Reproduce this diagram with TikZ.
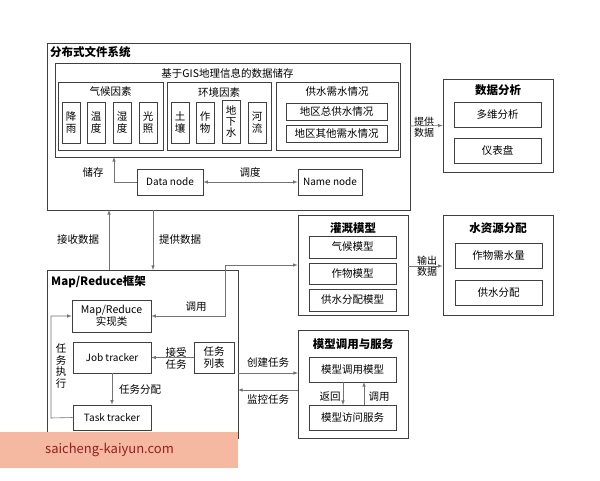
\documentclass[tikz,border=0pt]{standalone}
\usepackage{fontspec}
\setmainfont{Noto Sans CJK SC}
\begin{document}
\begin{tikzpicture}[x=1pt,y=-1pt,
  box/.style={draw=black!75,line width=0.7pt,inner sep=0pt,font=\fontsize{10.5}{12}\selectfont,align=center},
  cont/.style={draw=black!75,line width=0.8pt,inner sep=0pt},
  ttl/.style={font=\fontsize{11.5}{13}\selectfont\bfseries,inner sep=0pt},
  lbl/.style={font=\fontsize{10.5}{12}\selectfont,inner sep=0pt,align=center},
  arr/.style={-latex,draw=black!55,line width=0.6pt},
  darr/.style={latex-latex,draw=black!55,line width=0.6pt}]
\useasboundingbox (0,0) rectangle (600,480);
\fill[white] (0,0) rectangle (600,480);
% DFS
\node[cont,minimum width=363,minimum height=167] (dfs) at (228.5,126.5) {};
\node[ttl,anchor=west] (dfst) at (50,52) {分布式文件系统};
\node[cont,minimum width=345,minimum height=94] (gis) at (227.5,110) {};
\node[lbl] (gist) at (227.5,73) {基于GIS地理信息的数据储存};
\node[cont,minimum width=105,minimum height=68] (qh) at (110.5,116) {};
\node[lbl] (qht) at (110.5,92) {气候因素};
\foreach \n/\x/\t in {a/71/降\\雨,b/96/温\\度,c/122/湿\\度,d/148/光\\照}
  \node[box,minimum width=18,minimum height=41] (q\n) at (\x,122.5) {\t};
\node[cont,minimum width=104,minimum height=68] (hj) at (219,116) {};
\node[lbl] (hjt) at (219,92) {环境因素};
\foreach \n/\x/\t in {a/180/土\\壤,b/205/作\\物,d/257/河\\流}
  \node[box,minimum width=18,minimum height=41] (h\n) at (\x,122.5) {\t};
\node[box,minimum width=18,minimum height=43,font=\fontsize{10.5}{11}\selectfont] (hc) at (231,121.5) {地\\下\\水};
\node[cont,minimum width=122,minimum height=68] (gs) at (337,116) {};
\node[lbl] (gst) at (337,92) {供水需水情况};
\node[box,minimum width=101,minimum height=17] (gs1) at (336.5,111.5) {地区总供水情况};
\node[box,minimum width=101,minimum height=17] (gs2) at (336.5,133.5) {地区其他需水情况};
\node[box,minimum width=66,minimum height=26,font=\fontsize{10}{12}\selectfont] (dn) at (170,182) {Data node};
\node[box,minimum width=64,minimum height=26,font=\fontsize{10}{12}\selectfont] (nn) at (330,182) {Name node};
\node[lbl] (cc) at (93,172) {储存};
\node[lbl] (dd) at (250,172) {调度};
\coordinate (g1) at (114,157);
\draw[arr] (dn.west) -| (g1);
\draw[darr] (dn) -- (nn);
% MapReduce
\node[cont,minimum width=191,minimum height=168] (mr) at (142.5,354) {};
\node[ttl,anchor=west] (mrt) at (51,282) {Map/Reduce框架};
\draw[arr] (109,270) -- (109,210);
\draw[arr] (153,210) -- (153,270);
\node[lbl] (js) at (78,240) {接收数据};
\node[lbl] (tg) at (180,240) {提供数据};
\node[box,minimum width=79,minimum height=32] (mi) at (111.5,316) {Map/Reduce\\实现类};
\node[box,minimum width=78,minimum height=31,font=\fontsize{10}{12}\selectfont] (jt) at (112,357.5) {Job tracker};
\node[box,minimum width=40,minimum height=31] (rw) at (214,357.5) {任务\\列表};
\node[box,minimum width=78,minimum height=25,font=\fontsize{10}{12}\selectfont] (tt) at (112,417.5) {Task tracker};
\draw[arr] (rw) -- (jt);
\node[lbl] (jsr) at (176,358) {接受\\任务};
\draw[arr] (jt) -- (tt);
\node[lbl] (fp) at (140,390) {任务分配};
\coordinate (l1) at (51,418);
\draw[arr] (tt.west) -- (l1) |- (mi.west);
\node[lbl,font=\fontsize{10.5}{11.5}\selectfont] (zx) at (61,366) {任\\务\\执\\行};
% Irrigation
\node[cont,minimum width=110,minimum height=100] (gg) at (353,265) {};
\node[ttl] (ggt) at (353,228) {灌溉模型};
\node[box,minimum width=87,minimum height=22] (m1) at (352.5,247) {气候模型};
\node[box,minimum width=87,minimum height=21] (m2) at (352.5,273.5) {作物模型};
\node[box,minimum width=87,minimum height=22] (m3) at (352.5,300) {供水分配模型};
\coordinate (c1) at (225,265);
\draw[arr] (c1) -- (gg.west);
\draw[arr] (c1) |- (mi.east);
\node[lbl] (dy) at (196,307) {调用};
% Data analysis
\node[cont,minimum width=110,minimum height=93] (sj) at (498,125.5) {};
\node[ttl] (sjt) at (498,90) {数据分析};
\node[box,minimum width=87,minimum height=25] (s1) at (497.5,114.5) {多维分析};
\node[box,minimum width=87,minimum height=25] (s2) at (497.5,150.5) {仪表盘};
\draw[arr] (410,126) -- (sj.west);
\node[lbl,font=\fontsize{10}{11}\selectfont] (tg2) at (424,127) {提供\\数据};
% Water
\node[cont,minimum width=110,minimum height=100] (sz) at (498,265) {};
\node[ttl] (szt) at (498,228) {水资源分配};
\node[box,minimum width=87,minimum height=25] (w1) at (498.5,255.5) {作物需水量};
\node[box,minimum width=87,minimum height=25] (w2) at (498.5,292.5) {供水分配};
\draw[arr] (gg.east |- 0,266) -- (sz.west |- 0,266);
\node[lbl,font=\fontsize{10}{11}\selectfont] (sc) at (427,266) {输出\\数据};
% Model service
\node[cont,minimum width=110,minimum height=108] (mx) at (353,384) {};
\node[ttl] (mxt) at (353,344) {模型调用与服务};
\node[box,minimum width=87,minimum height=25] (x1) at (352.5,369.5) {模型调用模型};
\node[box,minimum width=87,minimum height=25] (x2) at (352.5,417.5) {模型访问服务};
\draw[arr] (343,382) -- (343,405);
\draw[arr] (364,405) -- (364,382);
\node[lbl] (fh) at (330,397) {返回};
\node[lbl] (dy2) at (379,397) {调用};
\draw[arr] (238,373) -- (298,373);
\draw[arr] (298,390) -- (238,390);
\node[lbl] (cj) at (268,362) {创建任务};
\node[lbl] (jk) at (268,399) {监控任务};
% watermark
\fill[fill={rgb,255:red,244;green,185;blue,160}] (0,432) rectangle (238,468);
\node[anchor=west,inner sep=0pt,text={rgb,255:red,150;green,30;blue,30},font=\fontsize{13}{15}\selectfont] (wm) at (45,450) {saicheng-kaiyun.com};
\end{tikzpicture}
\end{document}
